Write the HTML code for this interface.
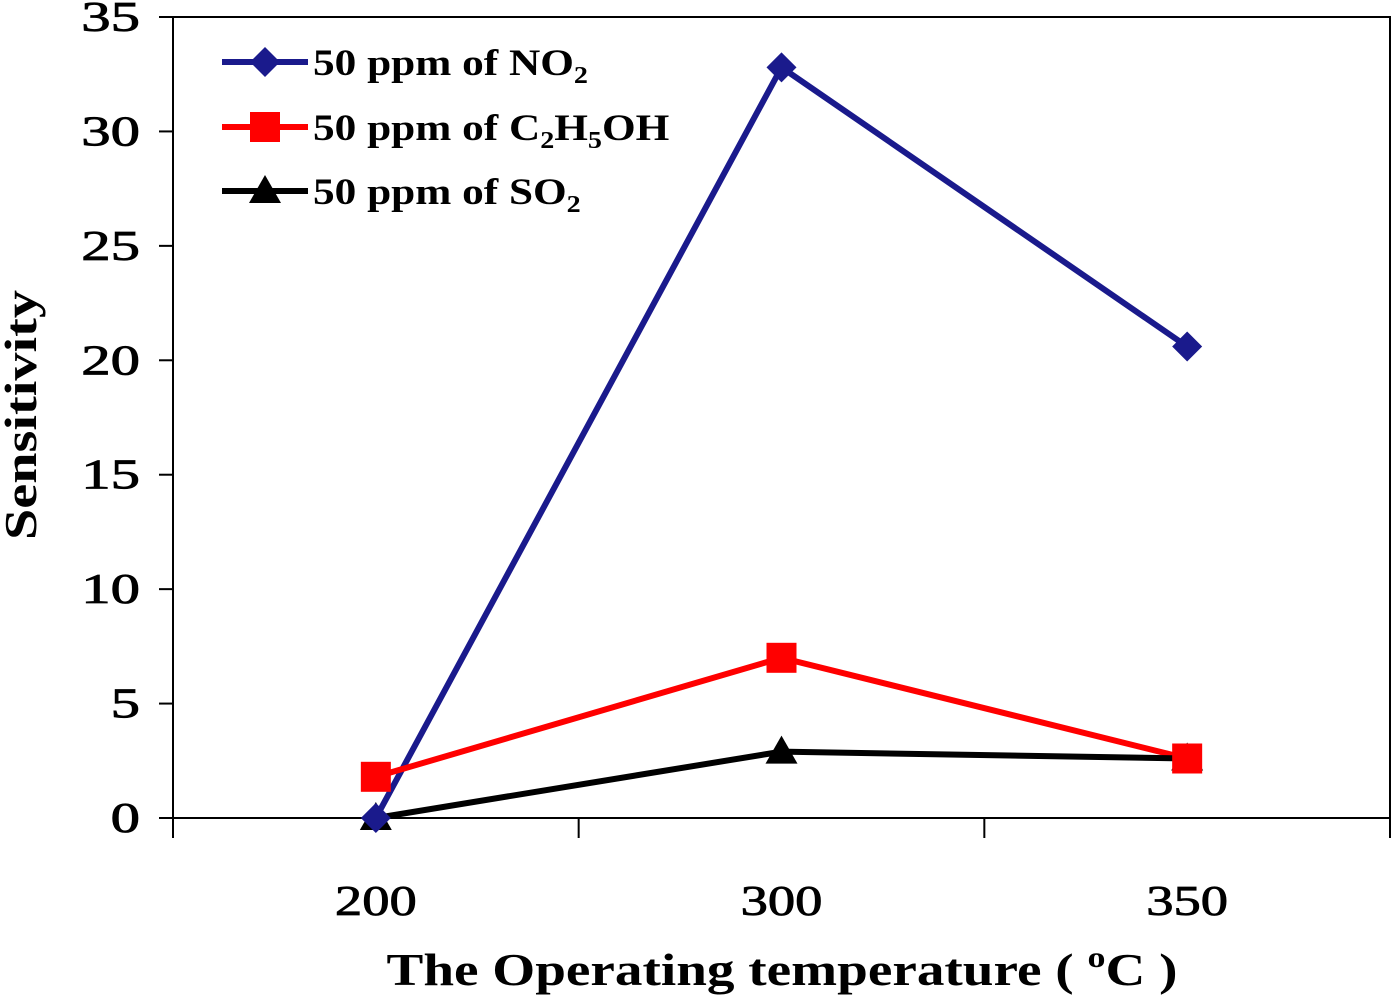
<!DOCTYPE html>
<html><head><meta charset="utf-8"><style>
body{margin:0;background:#fff;}
svg{display:block;font-family:"Liberation Serif",serif;}
</style></head><body>
<svg id="chart" width="1393" height="1000">
<g id="axes"></g><g id="series"></g><g id="legend"></g>
<g transform="translate(782,985) scale(1.2,1)"><text x="0" y="0" text-anchor="middle" font-size="46" font-weight="bold">The Operating temperature ( <tspan font-size="30" dy="-18">o</tspan><tspan dy="18">C )</tspan></text></g>
<text transform="translate(36,415) rotate(-90)" text-anchor="middle" font-size="46" font-weight="bold" textLength="250" lengthAdjust="spacingAndGlyphs">Sensitivity</text>
</svg>
<script>
const categories=["200","300","350"];
const no2=[0,32.8,20.6];
const ethanol=[1.8,7.0,2.6];
const so2=[0,2.9,2.6];
const yTicks=[0,5,10,15,20,25,30,35];
const L=173,R=1390,T=17,B=818,yMax=35;
const NS="http://www.w3.org/2000/svg";
const band=(R-L)/categories.length;
function xs(i){return L+band*(i+0.5);}
function ys(v){return B-(v/yMax)*(B-T);}
function mk(tag,attrs,parent){const e=document.createElementNS(NS,tag);for(const k in attrs)e.setAttribute(k,attrs[k]);parent.appendChild(e);return e;}
const axes=document.getElementById('axes');
let f=mk('rect',{x:L,y:T,width:R-L,height:B-T,fill:'none',stroke:'#000','stroke-width':2},axes);


yTicks.forEach(t=>{
 const y=ys(t);
 let tk=mk('line',{x1:L-14,x2:L,y1:y,y2:y,stroke:'#000','stroke-width':2},axes);
 
 
 let tx=mk('text',{x:0,y:0,'text-anchor':'end','font-size':42,stroke:'#000','stroke-width':0.8,transform:`translate(${L-33},${y+14}) scale(1.4,1)`},axes);
 tx.textContent=t;
 
 
});
for(let i=0;i<=categories.length;i++){
 const x=L+band*i;
 let tk=mk('line',{x1:x,x2:x,y1:B,y2:B+20,stroke:'#000','stroke-width':2},axes);
 
 
}
categories.forEach((c,i)=>{
 let tx=mk('text',{x:0,y:0,'text-anchor':'middle','font-size':42,stroke:'#000','stroke-width':0.8,transform:`translate(${xs(i)},915) scale(1.3,1)`},axes);
 tx.textContent=c;
 
 
});
function marker(type,x,y,color,parent){
 let e;
 if(type==='diamond')e=mk('polygon',{points:`${x},${y-15} ${x+15},${y} ${x},${y+15} ${x-15},${y}`,fill:color},parent);
 else if(type==='square')e=mk('rect',{x:x-15,y:y-15,width:30,height:30,fill:color},parent);
 else e=mk('polygon',{points:`${x},${y-16} ${x+16},${y+12} ${x-16},${y+12}`,fill:color},parent);
 return e;
}
const sers=[{d:no2,c:'#1a1a8c',m:'diamond',n:'no2'},{d:ethanol,c:'#ff0000',m:'square',n:'ethanol'},{d:so2,c:'#000',m:'triangle',n:'so2'}];
const sg=document.getElementById('series');
sers.forEach(s=>{
 let p=mk('polyline',{points:s.d.map((v,i)=>xs(i)+','+ys(v)).join(' '),fill:'none',stroke:s.c,'stroke-width':6},sg);
 
 
});
sers.slice().reverse().forEach(s=>{
 s.d.forEach((v,i)=>{
  let m=marker(s.m,xs(i),ys(v),s.c,sg);
  
  
 });
});
const lg=document.getElementById('legend');
const labels=[
 '50 ppm of NO<tspan font-size="24" dy="8">2</tspan>',
 '50 ppm of C<tspan font-size="24" dy="8">2</tspan><tspan dy="-8">H</tspan><tspan font-size="24" dy="8">5</tspan><tspan dy="-8">OH</tspan>',
 '50 ppm of SO<tspan font-size="24" dy="8">2</tspan>'];
const ly=[62,127,191];
sers.forEach((s,i)=>{
 let l=mk('line',{x1:222,x2:308,y1:ly[i],y2:ly[i],stroke:s.c,'stroke-width':6},lg);
 
 
 let m=marker(s.m,265,ly[i],s.c,lg);
 
 
 let t=mk('text',{x:0,y:0,'font-size':37,'font-weight':'bold',transform:`translate(313,${ly[i]+13}) scale(1.17,1)`},lg);
 t.innerHTML=labels[i];
 
 
});
</script>
</body></html>
